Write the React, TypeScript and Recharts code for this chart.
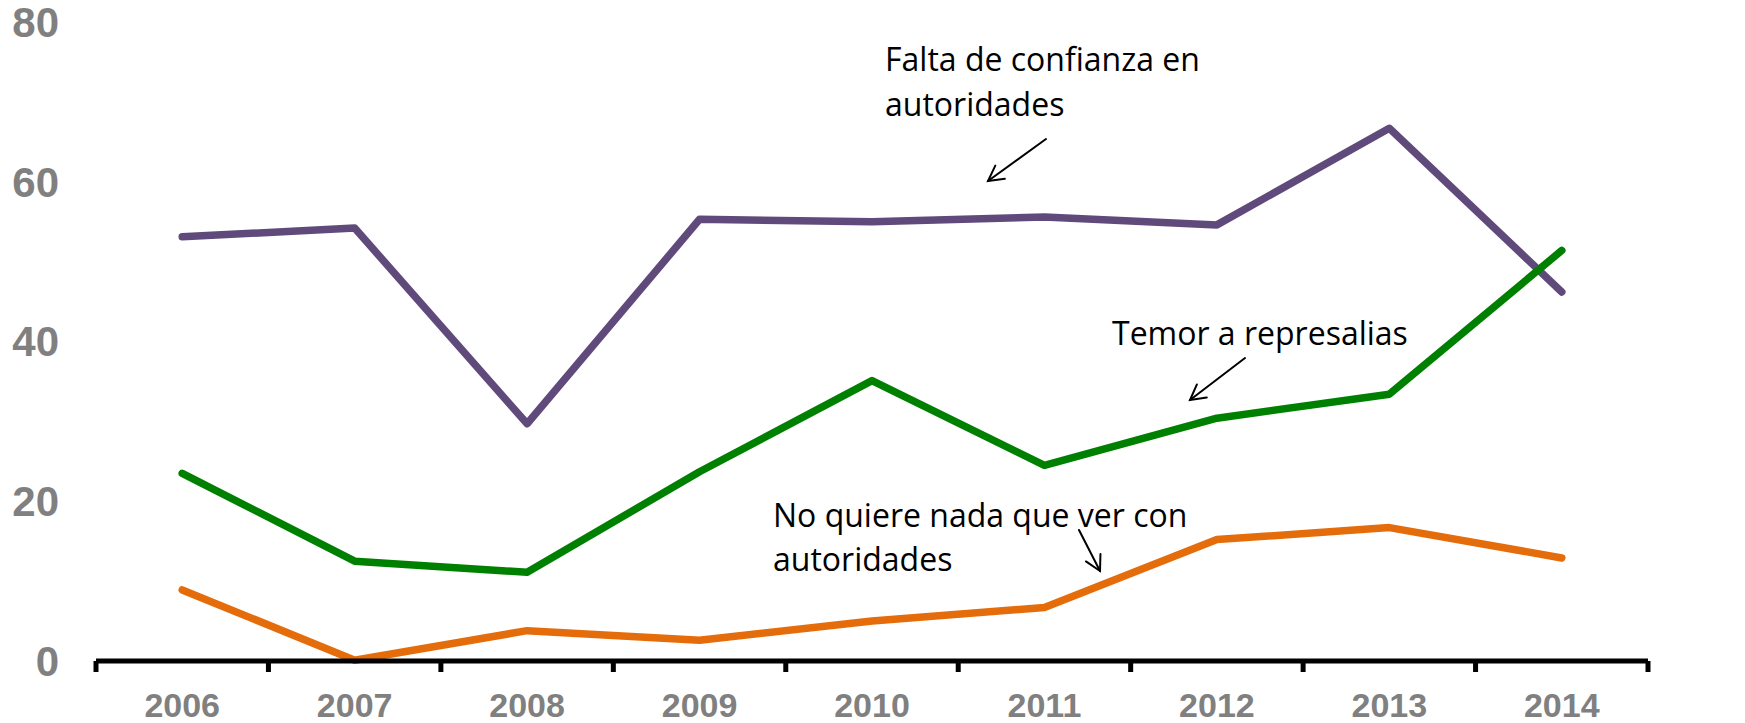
import React from "react";
import { LineChart, Line, XAxis, YAxis } from "recharts";

const years = ["2006", "2007", "2008", "2009", "2010", "2011", "2012", "2013", "2014"];
const faltaConfianza = [53.1, 54.2, 29.7, 55.3, 55.0, 55.6, 54.6, 66.7, 46.2];
const temorRepresalias = [23.5, 12.5, 11.1, 23.7, 35.1, 24.5, 30.4, 33.4, 51.4];
const noQuiereNada = [8.9, 0.1, 3.8, 2.6, 5.0, 6.7, 15.2, 16.7, 12.9];
const yTicks = [0, 20, 40, 60, 80];

const W = 1745;
const H = 723;

const data = years.map((year, i) => ({
  x: i + 0.5,
  year,
  falta: faltaConfianza[i],
  temor: temorRepresalias[i],
  noQuiere: noQuiereNada[i],
}));

// tick marks sit on the band edges, year labels in the band centres
const bandTicks = years.map((_, i) => i).concat([years.length]);
const labelTicks = years.map((_, i) => i + 0.5);

const yTickStyle = {
  fill: "#808080",
  fontSize: 42,
  fontWeight: 700,
  fontFamily: "'Liberation Sans', Arial, sans-serif",
};

const xTickStyle = {
  fill: "#808080",
  fontSize: 34,
  fontWeight: 700,
  fontFamily: "'Liberation Sans', Arial, sans-serif",
};

const noteFont = {
  fontFamily: "'Open Sans', 'Noto Sans', sans-serif",
  fontSize: 32,
  fill: "#000",
};

function Arrow({ x1, y1, x2, y2 }: { x1: number; y1: number; x2: number; y2: number }) {
  const ang = Math.atan2(y1 - y2, x1 - x2);
  const len = 17;
  const spread = 0.5;
  const a = { x: x2 + len * Math.cos(ang + spread), y: y2 + len * Math.sin(ang + spread) };
  const b = { x: x2 + len * Math.cos(ang - spread), y: y2 + len * Math.sin(ang - spread) };
  return (
    <g stroke="#000" strokeWidth={2} fill="none" strokeLinecap="round">
      <line x1={x1} y1={y1} x2={x2} y2={y2} />
      <polyline points={`${a.x},${a.y} ${x2},${y2} ${b.x},${b.y}`} />
    </g>
  );
}

export default function App() {
  return (
    <div style={{ position: "absolute", left: 0, top: 0, width: W, height: H, background: "#fff" }}>
      <LineChart width={W} height={H} data={data} margin={{ top: 22, right: 0, bottom: 0, left: 0 }}>
        <XAxis
          xAxisId="band"
          type="number"
          dataKey="x"
          domain={[0, years.length]}
          ticks={bandTicks}
          interval={0}
          tickFormatter={() => ""}
          tickSize={11}
          height={12}
          axisLine={{ stroke: "#000", strokeWidth: 5 }}
          tickLine={{ stroke: "#000", strokeWidth: 5 }}
        />
        <XAxis
          xAxisId="labels"
          type="number"
          dataKey="x"
          domain={[0, years.length]}
          ticks={labelTicks}
          interval={0}
          tickFormatter={(v: number) => years[Math.floor(v)]}
          tick={xTickStyle}
          tickSize={0}
          tickMargin={20}
          height={50}
          axisLine={false}
          tickLine={false}
        />
        <YAxis
          yAxisId="left"
          domain={[0, 80]}
          ticks={yTicks}
          interval={0}
          width={96}
          tickSize={0}
          tickMargin={37}
          axisLine={false}
          tickLine={false}
          tick={yTickStyle}
        />
        <YAxis
          yAxisId="right"
          orientation="right"
          domain={[0, 80]}
          ticks={yTicks}
          interval={0}
          width={97}
          tickSize={0}
          tickMargin={38}
          axisLine={false}
          tickLine={false}
          tick={{ ...yTickStyle, textAnchor: "start" }}
        />
        <Line
          xAxisId="band"
          yAxisId="left"
          type="linear"
          dataKey="falta"
          stroke="#604A7B"
          strokeWidth={7.5}
          dot={false}
          strokeLinecap="round"
          strokeLinejoin="round"
          isAnimationActive={false}
        />
        <Line
          xAxisId="band"
          yAxisId="left"
          type="linear"
          dataKey="temor"
          stroke="#008000"
          strokeWidth={7.5}
          dot={false}
          strokeLinecap="round"
          strokeLinejoin="round"
          isAnimationActive={false}
        />
        <Line
          xAxisId="band"
          yAxisId="left"
          type="linear"
          dataKey="noQuiere"
          stroke="#E46C0A"
          strokeWidth={7.5}
          dot={false}
          strokeLinecap="round"
          strokeLinejoin="round"
          isAnimationActive={false}
        />
      </LineChart>
      <svg
        width={W}
        height={H}
        style={{ position: "absolute", left: 0, top: 0, pointerEvents: "none" }}
      >
        <text {...noteFont} x={885} y={71}>Falta de confianza en</text>
        <text {...noteFont} x={885} y={116}>autoridades</text>
        <Arrow x1={1046} y1={139} x2={988} y2={181} />
        <text {...noteFont} x={1112} y={345}>Temor a represalias</text>
        <Arrow x1={1245} y1={358} x2={1190} y2={400} />
        <text {...noteFont} x={773} y={527}>No quiere nada que ver con</text>
        <text {...noteFont} x={773} y={571}>autoridades</text>
        <Arrow x1={1079} y1={530} x2={1100} y2={571} />
      </svg>
    </div>
  );
}
